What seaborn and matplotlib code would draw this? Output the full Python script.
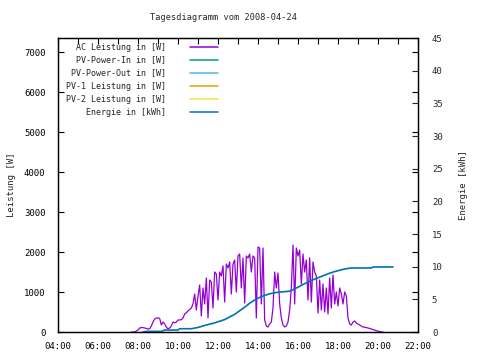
import pandas as pd
import matplotlib
matplotlib.use("Agg")
import matplotlib.pyplot as plt
import seaborn as sns

# AC power, one reading every 5 minutes starting 07:40
power_start = "07:40"
ac_power = [
    0, 0, 0, 25, 50, 100, 110, 110, 100, 90, 75, 80,            # 07:40-08:35
    150, 250, 325, 350, 350, 340, 175, 250, 200, 125, 75, 100,  # 08:40-09:35
    150, 250, 230, 250, 300, 300, 310, 350, 450, 480, 525, 560, # 09:40-10:35
    600, 700, 950, 550, 900, 1175, 400, 1100, 700, 1350, 350, 1300,   # 10:40-11:35
    1250, 600, 1500, 1450, 800, 1500, 1400, 1650, 750, 1700, 1600, 1750,  # 11:40-12:35
    950, 1700, 1800, 1000, 1900, 1950, 1100, 1850, 725, 1900, 1850, 1950,  # 12:40-13:35
    1500, 1900, 1850, 350, 2125, 2100, 700, 2100, 300, 150, 125, 200,  # 13:40-14:35
    250, 600, 1500, 1100, 1475, 700, 350, 175, 125, 150, 250, 550,    # 14:40-15:35
    1100, 2175, 700, 2100, 1900, 2050, 1200, 1950, 1500, 1800, 800, 1850,  # 15:40-16:35
    750, 1750, 1500, 1400, 475, 1300, 550, 1200, 500, 1100, 450, 1350,  # 16:40-17:35
    600, 1425, 700, 1000, 650, 1100, 950, 700, 1000, 900, 350, 200,    # 17:40-18:35
    175, 250, 275, 225, 200, 175, 150, 125, 120, 110, 100, 90,         # 18:40-19:35
    75, 60, 50, 30, 25, 10, 0, 0,                                      # 19:40-20:15
]

# daily energy counter
energy_times = ["08:15", "08:25", "09:10", "09:20", "10:00", "10:05", "10:40",
                "11:00", "11:20", "11:50", "12:20", "12:50", "13:20", "13:35",
                "13:50", "14:05", "14:20", "14:35", "14:55", "15:35", "15:50",
                "16:05", "16:20", "16:35", "16:50", "17:05", "17:20", "17:35",
                "17:50", "18:05", "18:20", "18:40", "19:40", "19:45", "20:45"]
energy_kwh = [0.0, 0.1, 0.1, 0.3, 0.3, 0.5, 0.5,
              0.7, 1.0, 1.4, 1.9, 2.7, 3.8, 4.4,
              4.9, 5.3, 5.6, 5.85, 6.05, 6.25, 6.6,
              7.0, 7.4, 7.75, 8.1, 8.4, 8.7, 9.0,
              9.25, 9.45, 9.65, 9.8, 9.8, 9.95, 9.95]

# series without data on this day (legend only)
pv_power_in = []
pv_power_out = []
pv1_power = []
pv2_power = []

series_labels = ["AC Leistung in [W]", "PV-Power-In in [W]", "PV-Power-Out in [W]",
                 "PV-1 Leistung in [W]", "PV-2 Leistung in [W]", "Energie in [kWh]"]
series_colors = ["#9400d3", "#009e73", "#56b4e9", "#e69f00", "#f0e442", "#0072b2"]

hour_ticks = list(range(4, 23, 2))


def to_hours(t):
    return t.dt.hour + t.dt.minute / 60


power_df = pd.DataFrame({
    "time": pd.date_range("2008-04-24 " + power_start, periods=len(ac_power), freq="5min"),
    "watt": ac_power,
})
power_df["hour"] = to_hours(power_df["time"])

energy_df = pd.DataFrame({
    "time": pd.to_datetime(["2008-04-24 " + t for t in energy_times]),
    "kwh": energy_kwh,
})
energy_df["hour"] = to_hours(energy_df["time"])

sns.set_style("white")
plt.rcParams["font.family"] = ["DejaVu Sans Mono"]
plt.rcParams["font.size"] = 6.5

fig = plt.figure(figsize=(4.8, 3.6), dpi=100)
ax = fig.add_axes([58 / 480, 28 / 360, 360 / 480, 294 / 360])
ax2 = ax.twinx()

sns.lineplot(data=power_df, x="hour", y="watt", ax=ax, color=series_colors[0],
             linewidth=0.9, estimator=None)
for vals, col in zip([pv_power_in, pv_power_out, pv1_power, pv2_power], series_colors[1:5]):
    ax.plot([], vals, color=col)
sns.lineplot(data=energy_df, x="hour", y="kwh", ax=ax2, color=series_colors[5],
             linewidth=1.2, estimator=None)

ax.set_xlim(4, 22)
ax.set_ylim(0, 7350)
ax2.set_ylim(0, 45)

ax.set_xticks(hour_ticks)
ax.set_xticks(range(4, 23), minor=True)
ax.set_xticklabels([f"{h:02d}:00" for h in hour_ticks])
ax.set_yticks(range(0, 7001, 1000))
ax2.set_yticks(range(0, 46, 5))

ax.tick_params(axis="both", which="both", direction="in", length=4, width=0.8,
               top=True, right=True, colors="black", labelsize=6.5)
ax.tick_params(axis="x", pad=7)
ax.tick_params(axis="y", pad=9)
ax2.tick_params(axis="y", direction="in", length=4, width=0.8, pad=10, labelsize=6.5)

ax.set_xlabel("")
ax.set_ylabel("Leistung [W]", fontsize=6.5, labelpad=6)
ax2.set_ylabel("Energie [kWh]", fontsize=6.5, labelpad=12)

for a in (ax, ax2):
    for s in a.spines.values():
        s.set_color("black")
        s.set_linewidth(0.9)

# legend, gnuplot style: right aligned text followed by the sample line
for i, (lab, col) in enumerate(zip(series_labels, series_colors)):
    yy = 0.969 - i * 0.0442
    ax.text(0.30, yy, lab, transform=ax.transAxes, ha="right", va="center", fontsize=6.0)
    ax.plot([0.367, 0.444], [yy, yy], transform=ax.transAxes, color=col, linewidth=1.1)

fig.text(223 / 480, 1 - 18 / 360, "Tagesdiagramm vom 2008-04-24", ha="center", va="center",
         fontsize=6.2)

fig.savefig("out.png", dpi=100)
